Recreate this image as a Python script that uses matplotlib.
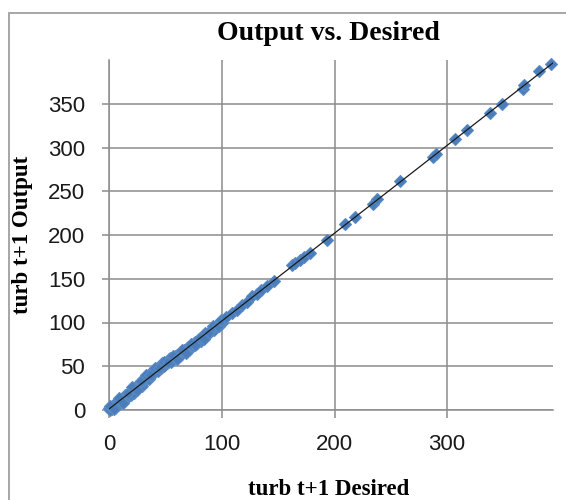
import numpy as np
import matplotlib
matplotlib.use("Agg")
import matplotlib.pyplot as plt
from matplotlib.patches import Rectangle

# ---- data ----
desired_a = [0, 2, 4, 6, 8, 10, 12, 14, 16, 18, 20, 22, 24, 26, 28, 30, 32, 34, 36, 38,
             40, 42, 44, 46, 48, 50, 52, 54, 56, 58, 60, 62, 64, 66, 68, 70, 72, 74, 76, 78,
             80, 82, 84, 86, 88, 90, 92, 94, 96, 98, 100]
output_a = [2, 1, 7, 7, 6, 12, 12, 17, 15, 20, 21, 20, 27, 30, 30, 35, 35, 38, 42, 43,
            43, 46, 49, 48, 54, 54, 55, 59, 58, 62, 63, 63, 66, 69, 67, 72, 73, 74, 78, 77,
            81, 84, 84, 87, 87, 92, 93, 94, 97, 100, 100]

desired_b = [1, 3, 5, 7, 9, 11, 13, 15, 17, 19, 21, 23, 25, 27, 29, 31, 33, 35, 37, 39,
             41, 43, 45, 47, 49, 51, 53, 55, 57, 59, 61, 63, 65, 67, 69, 71, 73, 75, 77, 79,
             81, 83, 85, 87, 89, 91, 93, 95, 97, 99]
output_b = [0, 4, 2, 7, 11, 10, 10, 16, 17, 17, 20, 25, 25, 28, 28, 33, 36, 36, 39, 43,
            47, 45, 48, 54, 50, 54, 58, 55, 61, 60, 63, 62, 68, 67, 70, 69, 73, 77, 76, 80,
            79, 83, 88, 86, 90, 91, 91, 96, 96, 101]

desired_c = [0.5, 4.5, 8.5, 12.5, 16.5, 20.5, 24.5, 28.5, 32.5, 36.5, 40.5, 44.5, 48.5,
             52.5, 56.5, 60.5, 64.5, 68.5, 72.5, 76.5, 80.5, 84.5, 88.5, 92.5, 96.5]
output_c = [4.5, 1.5, 13.5, 8.5, 19.5, 26.5, 22.5, 33.5, 39.5, 39.5, 48.5, 48.5, 54.5,
            54.5, 61.5, 58.5, 68.5, 65.5, 75.5, 74.5, 82.5, 81.5, 89.5, 95.5, 95.5]

desired_high = [99, 104, 109, 113, 118, 122, 127, 131, 135, 140, 146, 162, 165, 169.5, 173,
                178, 193, 209, 218, 234, 237.4, 258, 287, 290.5, 306.7, 317.6, 338, 349,
                367, 368, 382, 392]
output_high = [103, 106, 111, 114, 120.5, 124, 130, 133, 137, 141.4, 147, 166, 168, 171.6,
               175, 179, 194.3, 213, 221, 236, 241.6, 261.4, 289, 292.7, 310, 320.5, 340,
               349.5, 366.6, 372, 387.5, 395]

x_ticks = [0, 100, 200, 300]
y_ticks = [0, 50, 100, 150, 200, 250, 300, 350]

title = "Output vs. Desired"
xlabel = "turb t+1 Desired"
ylabel = "turb t+1 Output"

# ---- figure ----
W, H = 566, 500
fig = plt.figure(figsize=(W / 100, H / 100), dpi=100)
fig.patch.set_facecolor("white")

# outer chart border (right/bottom run off the image)
fig.patches.append(Rectangle((9 / W, -0.05), 1.2, 1 - 13 / H + 0.05,
                             transform=fig.transFigure, fill=False,
                             edgecolor="#a6a6a6", linewidth=1.4, clip_on=False))

ax = fig.add_axes([109.3 / W, 1 - 410 / H, (553 - 109.3) / W, 350 / H])

x_all = np.array(desired_a + desired_b + desired_c + desired_high, dtype=float)
y_all = np.array(output_a + output_b + output_c + output_high, dtype=float)

ax.plot(x_all, y_all, linestyle="none", marker="D", markersize=6.2,
        color="#4a7ebb", markeredgecolor="#5b8ac4", markeredgewidth=0.8,
        zorder=3, clip_on=False)

# linear trend line
k, b = np.polyfit(x_all, y_all, 1)
xs = np.array([0, 394])
ax.plot(xs, k * xs + b, color="#1a1a1a", linewidth=0.9, zorder=4)

ax.set_xlim(0, 394)
ax.set_ylim(0, 400)
ax.set_xticks(x_ticks)
ax.set_yticks(y_ticks)

grid_c = "#8c8c8c"
ax.grid(True, color=grid_c, linewidth=1.1)
ax.set_axisbelow(True)
for s in ["top", "right"]:
    ax.spines[s].set_visible(False)
for s in ["left", "bottom"]:
    ax.spines[s].set_color(grid_c)
    ax.spines[s].set_linewidth(1.1)

ax.tick_params(axis="x", length=5.8, width=1.1, color=grid_c, pad=11.5)
ax.tick_params(axis="y", length=4.8, width=1.1, color=grid_c, pad=12.5)
for lab in ax.get_xticklabels() + ax.get_yticklabels():
    lab.set_fontfamily("Liberation Sans")
    lab.set_fontsize(16)
    lab.set_color("#1a1a1a")

fig.text(328 / W, 1 - 40 / H, title, family="Liberation Serif", weight="bold",
         fontsize=20, ha="center", va="baseline")
fig.text(329 / W, 1 - 495 / H, xlabel, family="Liberation Serif", weight="bold",
         fontsize=16.5, ha="center", va="baseline")
fig.text(22.5 / W, 1 - 234.5 / H, ylabel, family="Liberation Serif", weight="bold",
         fontsize=16.5, ha="center", va="center", rotation=90)

fig.savefig("out.png", dpi=100, facecolor="white")
